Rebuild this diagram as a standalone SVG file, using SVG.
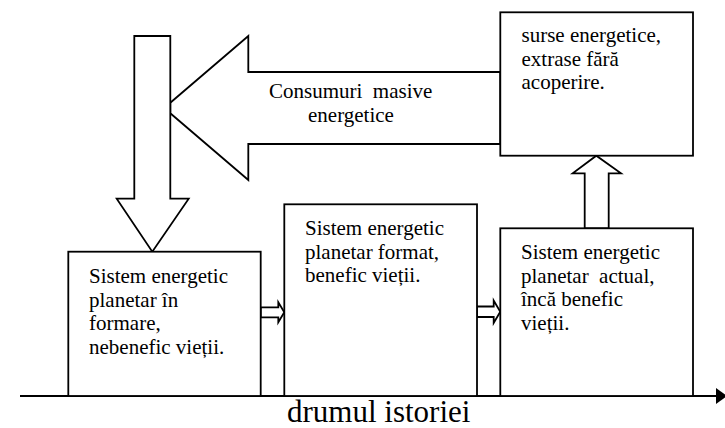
<svg xmlns="http://www.w3.org/2000/svg" width="725" height="428" viewBox="0 0 725 428">
<style>
.box{fill:#fff;stroke:#000;stroke-width:1.8}
.arr{fill:#fff;stroke:#000;stroke-width:1.8;stroke-linejoin:miter}
text{font-family:'Liberation Serif','Times New Roman','DejaVu Serif',serif;fill:#000}
.t{font-size:21px;white-space:pre}
.axis{font-size:31px}
</style>
<rect width="725" height="428" fill="#fff"/>
<g id="axis" font-family="Liberation Serif, serif">
<line x1="20" y1="396" x2="717" y2="396" stroke="#000" stroke-width="1.8"/>
<polygon points="716,388 727,396 716,404" fill="#000"/>
<text class="axis" x="287" y="422">drumul istoriei</text>
</g>
<g id="connectors" font-family="Liberation Serif, serif">
<polygon class="arr" points="500.3,72 248.3,72 248.3,36 170.3,102.7 170.3,113.3 248.3,180 248.3,144 500.3,144"/>
<text class="t" x="269" y="97.5" xml:space="preserve">Consumuri  masive</text>
<text class="t" x="308" y="122">energetice</text>
<polygon class="arr" points="134.3,36 170.3,36 170.3,198.7 188.7,198.7 152.3,251.7 116.7,198.7 134.3,198.7"/>
<polygon class="arr" points="584.7,228.3 584.7,173.3 572.7,173.3 596.3,155.7 621,173.3 608.7,173.3 608.7,228.3"/>
<polygon class="arr" points="260.7,307.3 278.3,307.3 278.3,302.3 284.3,312.3 278.3,322.3 278.3,317.3 260.7,317.3"/>
<polygon class="arr" points="477,306.5 493.7,306.5 493.7,300.5 500.3,311.7 493.7,323 493.7,317 477,317"/>
</g>
<g id="node-sources" font-family="Liberation Serif, serif">
<rect class="box" x="500.3" y="12.3" width="192.7" height="143.4"/>
<text class="t" x="521.5" y="42.3">surse energetice,</text>
<text class="t" x="521.5" y="65.8">extrase fără</text>
<text class="t" x="521.5" y="89.3">acoperire.</text>
</g>
<g id="node-forming" font-family="Liberation Serif, serif">
<rect class="box" x="68.3" y="251.7" width="192.4" height="144.3"/>
<text class="t" x="89" y="283.3">Sistem energetic</text>
<text class="t" x="89" y="306.8">planetar în</text>
<text class="t" x="89" y="330.3">formare,</text>
<text class="t" x="89" y="353.8">nebenefic vieții.</text>
</g>
<g id="node-formed" font-family="Liberation Serif, serif">
<rect class="box" x="284.3" y="204.3" width="192.7" height="191.7"/>
<text class="t" x="305" y="235">Sistem energetic</text>
<text class="t" x="305" y="258.5">planetar format,</text>
<text class="t" x="305" y="282">benefic vieții.</text>
</g>
<g id="node-current" font-family="Liberation Serif, serif">
<rect class="box" x="500.3" y="228.3" width="192.7" height="167.7"/>
<text class="t" x="521" y="259.3">Sistem energetic</text>
<text class="t" x="521" y="282.8" xml:space="preserve">planetar  actual,</text>
<text class="t" x="521" y="306.3">încă benefic</text>
<text class="t" x="521" y="329.8">vieții.</text>
</g>
</svg>
